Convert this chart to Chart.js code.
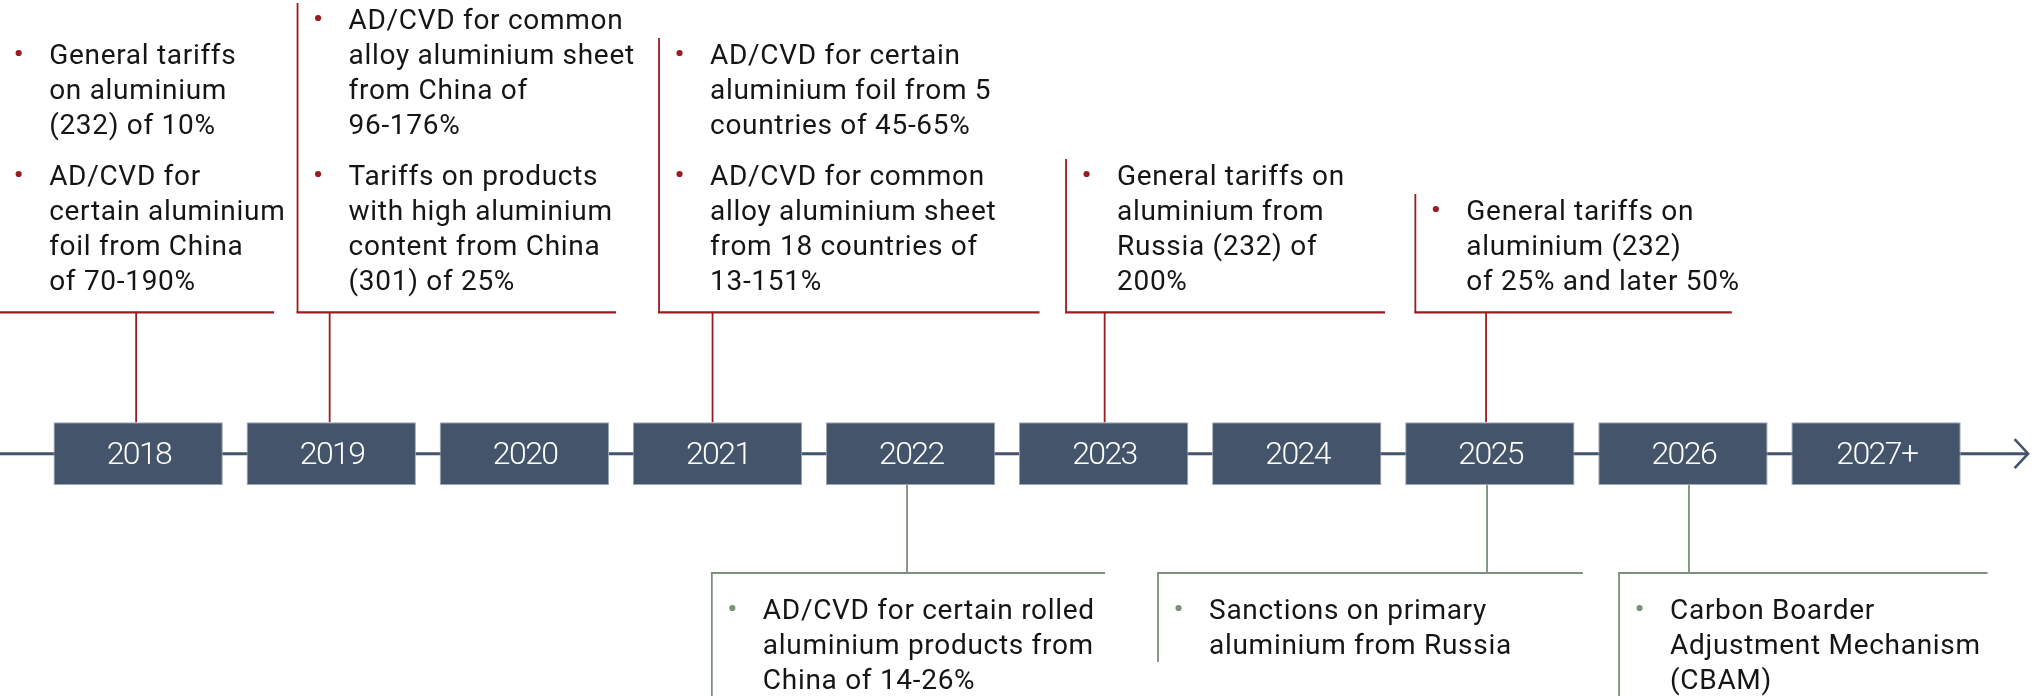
<!DOCTYPE html>
<html>
<head>
<meta charset="utf-8">
<script src="https://cdn.jsdelivr.net/npm/chart.js@4.4.1/dist/chart.umd.min.js"></script>
<style>
html,body{margin:0;padding:0;background:#ffffff;}
#wrap{width:2043px;height:696px;position:relative;overflow:hidden;}
canvas{display:block;}
</style>
</head>
<body>
<div id="wrap"><canvas id="c" width="2043" height="696"></canvas></div>
<script>
// ---------- DATA ----------
const years = ['2018','2019','2020','2021','2022','2023','2024','2025','2026','2027+'];
const boxSpan = years.map(() => [-1, 1]);

const aboveYears = ['2018','2019','2021','2023','2025'];
const aboveItems = [
  [["General tariffs","on aluminium","(232) of 10%"],
   ["AD/CVD for","certain aluminium","foil from China","of 70-190%"]],
  [["AD/CVD for common","alloy aluminium sheet","from China of","96-176%"],
   ["Tariffs on products","with high aluminium","content from China","(301) of 25%"]],
  [["AD/CVD for certain","aluminium foil from 5","countries of 45-65%"],
   ["AD/CVD for common","alloy aluminium sheet","from 18 countries of","13-151%"]],
  [["General tariffs on","aluminium from","Russia (232) of","200%"]],
  [["General tariffs on","aluminium (232)","of 25% and later 50%"]]
];

const belowYears = ['2022','2025','2026'];
const belowItems = [
  [["AD/CVD for certain rolled","aluminium products from","China of 14-26%"]],
  [["Sanctions on primary","aluminium from Russia"]],
  [["Carbon Boarder","Adjustment Mechanism","(CBAM)"]]
];

// ---------- LAYOUT (pixels relative to each year's centre) ----------
const aboveLayout = [
  {left:-140, right:136, stem:-2},
  {left:-33.7, right:284.8, stem:-1.6},
  {left:-58.4, right:322, stem:-4.9},
  {left:-37.6, right:281.4, stem:1},
  {left:-74.5, right:242, stem:-3.8}
];
const belowLayout = [
  {left:-198.7, right:194.5, stem:-3.5},
  {left:-331.8, right:93, stem:-2.8},
  {left:-63.9, right:304.6, stem:6}
];

const NAVY = '#44546A';
const RED = '#9B1B20';
const GREEN = '#7D907B';
const TEXT = '#151515';
const LINE_H = 35, PARA_GAP = 16;
const BODY_FONT = '400 28px Roboto';

function countLines(paras){ return paras.reduce((s,p)=>s+p.length,0); }

function drawText(ctx, paras, left, firstBaseline, color){
  ctx.font = BODY_FONT;
  ctx.fillStyle = TEXT;
  ctx.textAlign = 'left';
  ctx.textBaseline = 'alphabetic';
  try { ctx.letterSpacing = '0.7px'; } catch(e){}
  let y = firstBaseline;
  paras.forEach((p) => {
    ctx.save();
    ctx.fillStyle = color;
    ctx.beginPath();
    ctx.arc(left + 20.5, y - 11, 3.1, 0, Math.PI*2);
    ctx.fill();
    ctx.restore();
    p.forEach((line) => {
      ctx.fillStyle = TEXT;
      ctx.fillText(line, left + 51, y);
      y += LINE_H;
    });
    y += PARA_GAP;
  });
  try { ctx.letterSpacing = '0px'; } catch(e){}
}

const timelinePlugin = {
  id: 'timeline',
  beforeDatasetsDraw(chart){
    const ctx = chart.ctx;
    const xs = chart.scales.x, ys = chart.scales.y;
    const yc = ys.getPixelForValue(0);
    const boxTop = ys.getPixelForValue(1);
    const boxBot = ys.getPixelForValue(-1);
    const tip = chart.chartArea.right + 55.5;
    ctx.save();
    ctx.strokeStyle = NAVY;
    ctx.lineWidth = 3;
    ctx.beginPath(); ctx.moveTo(0, yc); ctx.lineTo(tip, yc); ctx.stroke();
    ctx.lineWidth = 2.6;
    ctx.lineJoin = 'miter';
    ctx.beginPath();
    ctx.moveTo(tip - 13.5, yc - 14.5);
    ctx.lineTo(tip, yc);
    ctx.lineTo(tip - 13.5, yc + 14.5);
    ctx.stroke();

    aboveYears.forEach((yr, i) => {
      const cx = xs.getPixelForValue(years.indexOf(yr));
      const L = aboveLayout[i];
      const hY = boxTop - 110;
      const n = countLines(aboveItems[i]);
      const lastBase = hY - 22.3;
      const firstBase = lastBase - (n-1)*LINE_H - (aboveItems[i].length-1)*PARA_GAP;
      ctx.strokeStyle = RED;
      ctx.lineWidth = 1.8;
      ctx.beginPath(); ctx.moveTo(cx + L.stem, hY); ctx.lineTo(cx + L.stem, boxTop); ctx.stroke();
      ctx.beginPath(); ctx.moveTo(cx + L.left, firstBase - 26); ctx.lineTo(cx + L.left, hY); ctx.stroke();
      ctx.lineWidth = 2.2;
      ctx.beginPath(); ctx.moveTo(cx + L.left - 1, hY); ctx.lineTo(cx + L.right, hY); ctx.stroke();
    });

    belowYears.forEach((yr, i) => {
      const cx = xs.getPixelForValue(years.indexOf(yr));
      const L = belowLayout[i];
      const hY = boxBot + 88;
      const n = countLines(belowItems[i]);
      const firstBase = hY + 46;
      const lastBase = firstBase + (n-1)*LINE_H + (belowItems[i].length-1)*PARA_GAP;
      ctx.strokeStyle = GREEN;
      ctx.lineWidth = 1.8;
      ctx.beginPath(); ctx.moveTo(cx + L.stem, boxBot); ctx.lineTo(cx + L.stem, hY); ctx.stroke();
      ctx.beginPath(); ctx.moveTo(cx + L.left, hY); ctx.lineTo(cx + L.left, lastBase + 8); ctx.stroke();
      ctx.lineWidth = 2.2;
      ctx.beginPath(); ctx.moveTo(cx + L.left - 1, hY); ctx.lineTo(cx + L.right, hY); ctx.stroke();
    });
    ctx.restore();
  },
  afterDatasetsDraw(chart){
    const ctx = chart.ctx;
    const xs = chart.scales.x, ys = chart.scales.y;
    const yc = ys.getPixelForValue(0);
    const boxTop = ys.getPixelForValue(1);
    const boxBot = ys.getPixelForValue(-1);
    ctx.save();
    ctx.fillStyle = '#ffffff';
    ctx.font = '300 32px Roboto';
    ctx.textAlign = 'center';
    ctx.textBaseline = 'alphabetic';
    try { ctx.letterSpacing = '-1.6px'; } catch(e){}
    years.forEach((yr, i) => {
      ctx.fillText(yr, xs.getPixelForValue(i) + 0.8, yc + 10);
    });
    try { ctx.letterSpacing = '0px'; } catch(e){}

    aboveYears.forEach((yr, i) => {
      const cx = xs.getPixelForValue(years.indexOf(yr));
      const L = aboveLayout[i];
      const hY = boxTop - 110;
      const n = countLines(aboveItems[i]);
      const lastBase = hY - 22.3;
      const firstBase = lastBase - (n-1)*LINE_H - (aboveItems[i].length-1)*PARA_GAP;
      drawText(ctx, aboveItems[i], cx + L.left, firstBase, RED);
    });
    belowYears.forEach((yr, i) => {
      const cx = xs.getPixelForValue(years.indexOf(yr));
      const L = belowLayout[i];
      const hY = boxBot + 88;
      drawText(ctx, belowItems[i], cx + L.left, hY + 46, GREEN);
    });
    ctx.restore();
  }
};

new Chart(document.getElementById('c'), {
  type: 'bar',
  data: {
    labels: years,
    datasets: [{
      data: boxSpan,
      backgroundColor: NAVY,
      borderColor: '#9AA6B6',
      borderWidth: 1,
      borderSkipped: false,
      barPercentage: 0.877,
      categoryPercentage: 1
    }]
  },
  options: {
    responsive: false,
    animation: false,
    devicePixelRatio: 1,
    layout: { padding: { left: 41.6, right: 70.4, top: 0, bottom: 0 } },
    plugins: { legend: { display: false }, tooltip: { enabled: false } },
    scales: {
      x: { display: false, offset: true },
      y: { display: false, min: -7.73, max: 14.47 }
    }
  },
  plugins: [timelinePlugin]
});
</script>
</body>
</html>
